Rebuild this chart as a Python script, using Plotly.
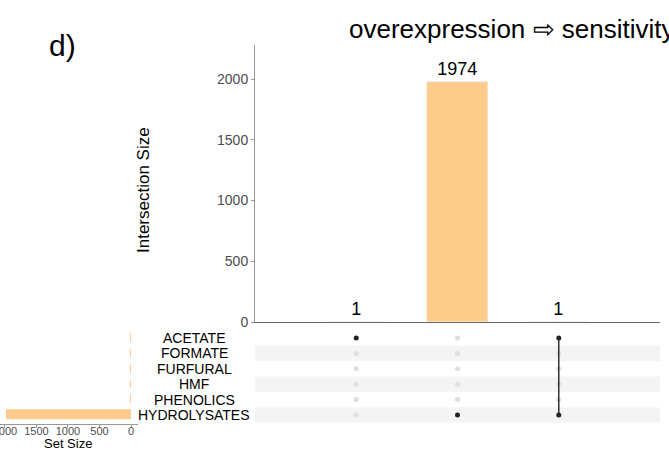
import plotly.graph_objects as go

sets = ["ACETATE", "FORMATE", "FURFURAL", "HMF", "PHENOLICS", "HYDROLYSATES"]
set_sizes = [2, 1, 1, 1, 1, 1975]
intersections = [["ACETATE"], ["HYDROLYSATES"], ["ACETATE", "HYDROLYSATES"]]
inter_sizes = [1, 1974, 1]
main_ticks = [0, 500, 1000, 1500, 2000]
set_ticks = [0, 500, 1000, 1500, 2000]

ORANGE = "#fdcc8a"
W, H = 669, 456
px = lambda x: x / W
py = lambda y: 1 - y / H

fig = go.Figure()
cols = list(range(len(intersections)))

# main intersection bars
fig.add_trace(go.Bar(x=cols, y=inter_sizes, width=0.6, marker_color=ORANGE,
                     text=[str(v) for v in inter_sizes], textposition="outside",
                     textfont=dict(size=18, color="black"), cliponaxis=False,
                     xaxis="x", yaxis="y", showlegend=False))

# matrix background dots
bx, by = [], []
ax_, ay_ = [], []
for c, combo in enumerate(intersections):
    for r, s in enumerate(sets):
        if s in combo:
            ax_.append(c); ay_.append(r)
        else:
            bx.append(c); by.append(r)
fig.add_trace(go.Scatter(x=bx, y=by, mode="markers", marker=dict(size=5, color="#dedede"),
                         xaxis="x2", yaxis="y2", showlegend=False))
for c, combo in enumerate(intersections):
    rows = [sets.index(s) for s in combo]
    if len(rows) > 1:
        fig.add_trace(go.Scatter(x=[c, c], y=[min(rows), max(rows)], mode="lines",
                                 line=dict(color="#333333", width=1.5),
                                 xaxis="x2", yaxis="y2", showlegend=False))
fig.add_trace(go.Scatter(x=ax_, y=ay_, mode="markers", marker=dict(size=5, color="#222222"),
                         xaxis="x2", yaxis="y2", showlegend=False))

# set size bars
fig.add_trace(go.Bar(x=set_sizes, y=list(range(len(sets))), orientation="h", width=0.55,
                     marker=dict(color=ORANGE, line=dict(color=ORANGE, width=1)),
                     xaxis="x3", yaxis="y3", showlegend=False))

shapes = []
for r in range(len(sets)):
    if r % 2 == 1:
        shapes.append(dict(type="rect", xref="x2 domain", yref="y2", x0=0, x1=1,
                           y0=r - 0.5, y1=r + 0.5, fillcolor="#f4f4f4", line_width=0,
                           layer="below"))

annotations = [
    dict(text="d)", x=px(47), y=py(45), xref="paper", yref="paper", xanchor="left",
         yanchor="middle", showarrow=False, font=dict(size=30, color="black")),
    dict(text="overexpression ⇨ sensitivity", x=px(347), y=py(29), xref="paper", yref="paper",
         xanchor="left", yanchor="middle", showarrow=False, font=dict(size=26, color="black")),
    dict(text="Intersection Size", x=px(143), y=py(190), xref="paper", yref="paper",
         xanchor="center", yanchor="middle",
         textangle=-90, showarrow=False, font=dict(size=17, color="black")),
    dict(text="Set Size", x=px(68), y=py(443), xref="paper", yref="paper",
         xanchor="center", yanchor="middle",
         showarrow=False, font=dict(size=13, color="black")),
]
for r, s in enumerate(sets):
    annotations.append(dict(text=s, x=px(194), y=r, xref="paper", yref="y2",
                            xanchor="center", yanchor="middle", showarrow=False,
                            font=dict(size=14, color="black")))

axis_grey = "#999999"
fig.update_layout(
    width=W, height=H, margin=dict(l=0, r=0, t=0, b=0, autoexpand=False),
    paper_bgcolor="white", plot_bgcolor="rgba(0,0,0,0)",
    font=dict(family="Liberation Sans, Arial, sans-serif"),
    xaxis=dict(domain=[px(255), px(660)], range=[-1, 3], showticklabels=False, ticks="",
               showgrid=False, zeroline=False, showline=True, linecolor="#666666", linewidth=1,
               automargin=False),
    yaxis=dict(domain=[py(322), py(45)], range=[0, 2280], tickvals=main_ticks,
               ticks="outside", ticklen=3, tickcolor=axis_grey, showgrid=False, zeroline=False,
               showline=True, linecolor=axis_grey, linewidth=1, automargin=False,
               tickfont=dict(size=14, color="#4d4d4d")),
    xaxis2=dict(domain=[px(255), px(660)], range=[-1, 3], visible=False, anchor="y2",
                automargin=False),
    yaxis2=dict(domain=[py(422.7), py(330.3)], range=[5.5, -0.5], visible=False, anchor="x2",
                automargin=False),
    xaxis3=dict(domain=[0, px(138)], range=[2079, -111], tickvals=set_ticks, anchor="y3",
                ticks="outside", ticklen=3, tickcolor=axis_grey, showgrid=False, zeroline=False,
                showline=True, linecolor=axis_grey, linewidth=1, automargin=False,
                ticklabeloverflow="allow", ticklabelstandoff=-6,
                tickfont=dict(size=11, color="#4d4d4d")),
    yaxis3=dict(domain=[py(424), py(330.3)], range=[5.5 + 0.1, -0.5], visible=False, anchor="x3",
                automargin=False),
    shapes=shapes, annotations=annotations, bargap=0,
)

fig.write_html("out.html", config={"displayModeBar": False},
               post_script="document.body.style.margin='0px';document.body.style.overflow='hidden';")
